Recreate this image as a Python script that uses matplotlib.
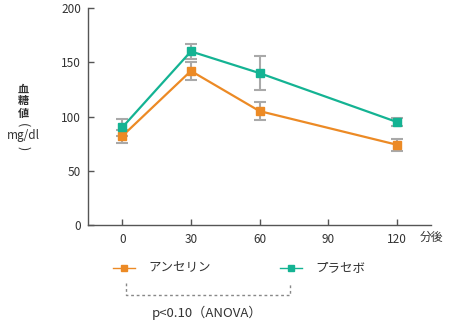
import matplotlib
matplotlib.use("Agg")
import matplotlib.pyplot as plt
from matplotlib.lines import Line2D

plt.rcParams["font.family"] = ["Noto Sans CJK JP", "DejaVu Sans"]

# data
minutes = [0, 30, 60, 120]
anserine = [82, 142, 105, 74]
anserine_err = [6, 8, 8, 5.5]
placebo = [90, 160, 140, 95]
placebo_err = [8, 7, 15.5, 4]
x_ticks = [0, 30, 60, 90, 120]
y_ticks = [0, 50, 100, 150, 200]
series_names = ["アンセリン", "プラセボ"]

ORANGE = "#ec8a25"
TEAL = "#14b393"
ERR = "#a9a9a9"
TEXT = "#333333"
AXIS = "#555555"

fig = plt.figure(figsize=(4.5, 3.33), dpi=100)
ax = fig.add_axes([88 / 450, 1 - 225 / 333, (431 - 88) / 450, (225 - 8) / 333])

for y, e, c in [(anserine, anserine_err, ORANGE), (placebo, placebo_err, TEAL)]:
    ax.errorbar(minutes, y, yerr=e, fmt="none", ecolor=ERR, elinewidth=1.5,
                capsize=4, capthick=1.5, zorder=2)
    ax.plot(minutes, y, color=c, lw=1.6, marker="s", ms=5.5, zorder=3)

ax.set_xlim(-15, 135)
ax.set_ylim(0, 200)
ax.set_xticks(x_ticks)
ax.set_yticks(y_ticks)
ax.tick_params(direction="in", length=4, width=1, colors=AXIS,
               labelcolor=TEXT, labelsize=8.5)
ax.tick_params(axis="x", pad=6)
ax.tick_params(axis="y", pad=5)
for s in ["top", "right"]:
    ax.spines[s].set_visible(False)
for s in ["left", "bottom"]:
    ax.spines[s].set_color(AXIS)
    ax.spines[s].set_linewidth(1)

fig.text(431 / 450, 1 - 237 / 333, "分後", ha="center", va="center",
         fontsize=8.5, color=TEXT)

# vertical y label: stacked kanji, unit with parentheses turned sideways
for txt, yy in [("血", 89), ("糖", 101), ("値", 113)]:
    fig.text(23 / 450, 1 - yy / 333, txt, ha="center", va="center",
             fontsize=8, color=TEXT, fontweight="bold")
fig.text(23 / 450, 1 - 125 / 333, "(", ha="center", va="center", rotation=-90,
         fontsize=9, color=TEXT)
fig.text(23 / 450, 1 - 136 / 333, "mg/dl", ha="center", va="center",
         fontsize=8.5, color=TEXT)
fig.text(23 / 450, 1 - 148 / 333, ")", ha="center", va="center", rotation=-90,
         fontsize=9, color=TEXT)

# legend drawn by hand
for x0, c, name in [(113, ORANGE, series_names[0]), (280, TEAL, series_names[1])]:
    fig.add_artist(Line2D([x0 / 450, (x0 + 22) / 450], [1 - 268 / 333] * 2,
                          transform=fig.transFigure, color=c, lw=1.0))
    fig.add_artist(Line2D([(x0 + 11) / 450], [1 - 268 / 333],
                          transform=fig.transFigure, color=c, marker="s",
                          ms=5, lw=0))
    fig.text((x0 + 35) / 450, 1 - 268 / 333, name, ha="left", va="center",
             fontsize=9, color=TEXT)

xs = [126 / 450, 126 / 450, 290 / 450, 290 / 450]
ys = [1 - 283 / 333, 1 - 295 / 333, 1 - 295 / 333, 1 - 283 / 333]
fig.add_artist(Line2D(xs, ys, transform=fig.transFigure, color="#888888",
                      lw=1.0, ls=(0, (2, 2))))
fig.text(207 / 450, 1 - 313 / 333, "p<0.10（ANOVA）", ha="center", va="center",
         fontsize=9.5, color=TEXT)

fig.savefig("out.png", dpi=100)
